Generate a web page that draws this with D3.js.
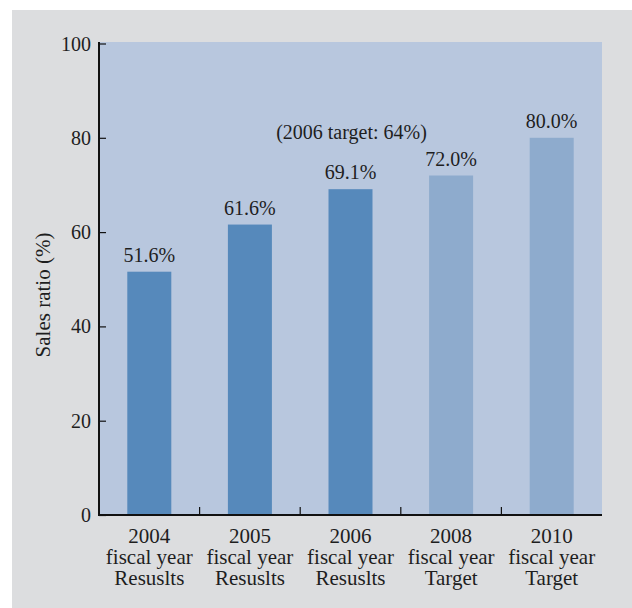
<!DOCTYPE html>
<html>
<head>
<meta charset="utf-8">
<script src="https://cdn.jsdelivr.net/npm/d3@7"></script>
<style>
  body { margin: 0; background: #fff; }
  svg text { font-family: "Liberation Serif", "DejaVu Serif", serif; fill: #1e1e1e; }
</style>
</head>
<body>
<svg id="barChart" width="632" height="608"></svg>
<script>
var years = ["2004", "2005", "2006", "2008", "2010"];
var kinds = ["Resuslts", "Resuslts", "Resuslts", "Target", "Target"];
var ratios = [51.6, 61.6, 69.1, 72.0, 80.0];
var yTicks = [0, 20, 40, 60, 80, 100];
var note = "(2006 target: 64%)";

function createChart() {
  var svg = d3.select("svg#barChart"),
      margin = {top: 43.5, right: 30, bottom: 93, left: 99},
      width = +svg.attr("width") - margin.left - margin.right,
      height = +svg.attr("height") - margin.top - margin.bottom;

  // grey panel behind everything
  svg.append("rect")
      .attr("x", 12).attr("y", 10)
      .attr("width", 620).attr("height", 598)
      .attr("fill", "#dcdddf");

  var g = svg.append("g").attr("transform", "translate(" + margin.left + "," + margin.top + ")");

  var x = d3.scaleBand()
      .domain(years)
      .range([0, width])
      .padding(0);

  var y = d3.scaleLinear()
      .domain([0, 100])
      .range([height, 0]);

  var barW = 44;

  g.append("rect")
      .attr("x", 0).attr("y", -1.5)
      .attr("width", width).attr("height", height + 1.5)
      .attr("fill", "#b8c7de");

  g.selectAll(".bar")
    .data(years)
    .enter().append("rect")
      .attr("class", "bar")
      .attr("x", function(d) { return x(d) + x.bandwidth() / 2 - barW / 2; })
      .attr("y", function(d, i) { return y(ratios[i]); })
      .attr("width", barW)
      .attr("height", function(d, i) { return height - y(ratios[i]); })
      .attr("fill", function(d, i) { return kinds[i] == "Target" ? "#8eabcd" : "#5689bb"; });

  g.selectAll(".val")
    .data(years)
    .enter().append("text")
      .attr("class", "val")
      .attr("x", function(d) { return x(d) + x.bandwidth() / 2; })
      .attr("y", function(d, i) { return y(ratios[i]) - 10; })
      .attr("text-anchor", "middle")
      .style("font-size", "20px")
      .text(function(d, i) { return ratios[i].toFixed(1) + "%"; });

  g.append("text")
      .attr("x", x("2006") + x.bandwidth() / 2 + 1)
      .attr("y", 139 - margin.top)
      .attr("text-anchor", "middle")
      .style("font-size", "20px")
      .text(note);

  // y axis, ticks pointing inward
  var yAxis = g.append("g")
      .call(d3.axisRight(y).tickValues(yTicks).tickSize(7).tickFormat(""));
  yAxis.select(".domain").attr("stroke", "#111").attr("stroke-width", 2).attr("d", "M0," + (-1.5) + "V" + height);
  yAxis.selectAll(".tick line").attr("stroke", "#111").attr("stroke-width", 1.2);

  g.selectAll(".ylab")
    .data(yTicks)
    .enter().append("text")
      .attr("class", "ylab")
      .attr("x", -8)
      .attr("y", function(d) { return y(d); })
      .attr("dy", "0.35em")
      .attr("text-anchor", "end")
      .style("font-size", "20px")
      .text(function(d) { return d; });

  // x axis with ticks between categories
  var xAxis = g.append("g")
      .attr("transform", "translate(0," + height + ")");
  xAxis.append("line")
      .attr("x1", -1).attr("x2", width)
      .attr("stroke", "#111").attr("stroke-width", 2);
  xAxis.selectAll(".sep")
    .data(years.slice(1))
    .enter().append("line")
      .attr("class", "sep")
      .attr("x1", function(d) { return x(d); })
      .attr("x2", function(d) { return x(d); })
      .attr("y1", 0).attr("y2", -8)
      .attr("stroke", "#111").attr("stroke-width", 1.2);

  var lab = xAxis.selectAll(".xlab")
    .data(years)
    .enter().append("text")
      .attr("class", "xlab")
      .attr("text-anchor", "middle")
      .style("font-size", "21px")
      .attr("transform", function(d) { return "translate(" + (x(d) + x.bandwidth() / 2) + ",0)"; });
  lab.append("tspan").attr("x", 0).attr("y", 28).text(function(d) { return d; });
  lab.append("tspan").attr("x", 0).attr("y", 49).text("fiscal year");
  lab.append("tspan").attr("x", 0).attr("y", 70).text(function(d, i) { return kinds[i]; });

  svg.append("text")
      .attr("transform", "translate(50,295) rotate(-90)")
      .attr("text-anchor", "middle")
      .style("font-size", "21px")
      .text("Sales ratio (%)");
}

createChart();
</script>
</body>
</html>
